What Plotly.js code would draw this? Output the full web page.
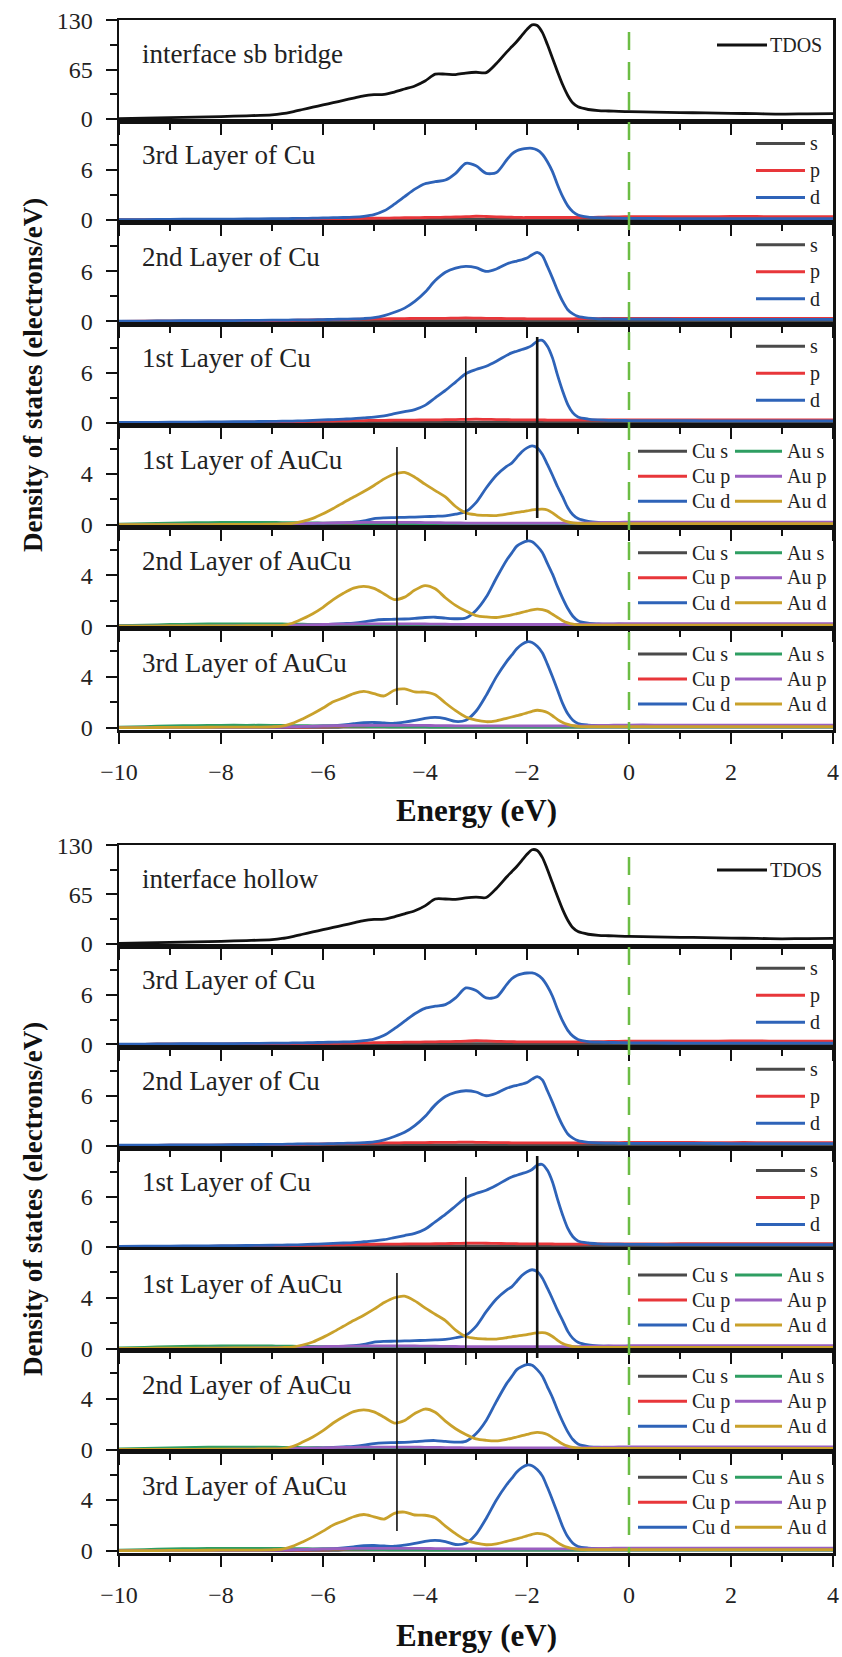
<!DOCTYPE html>
<html><head><meta charset="utf-8">
<script src="https://cdn.plot.ly/plotly-3.0.1.min.js"></script>
<style>html,body{margin:0;padding:0;background:#fff}#chart{width:842px;height:1657px}</style>
</head><body><div id="chart"></div>
<script>
// ---------------- DATA ----------------
const E = [-10,-9.5,-9,-8.5,-8,-7.5,-7,-6.8,-6.6,-6.4,-6.2,-6,-5.8,-5.6,-5.4,-5.2,-5,-4.8,-4.6,-4.4,-4.2,-4,-3.8,-3.6,-3.4,-3.2,-3,-2.8,-2.6,-2.4,-2.3,-2.2,-2.1,-2,-1.9,-1.8,-1.7,-1.6,-1.5,-1.4,-1.3,-1.2,-1.1,-1,-0.8,-0.6,-0.4,-0.2,0,0.5,1,1.5,2,2.5,3,3.5,4];

const tdos = [0.5,1,1.8,2.5,3.2,4.2,5.5, 7,9.5,12.5,15.5,18.5,21.5,24.5,27.5,30.5,32,32.5,35.5,39.5,43.5,50,59,59,58.5,60.5,61.5,61,73,88, 95,102,110,118,124,123,114,98,80,62,45,31,21,16, 12.5,11,10.5,10,9.6, 9,8.5,8,7.5,7,6.5,6.8,7];

const cu_s = [0.02,0.02,0.03,0.03,0.04,0.04,0.05, 0.05,0.06,0.06,0.07,0.07,0.08,0.08,0.08,0.09,0.09,0.1,0.1,0.1,0.1,0.1,0.1,0.1,0.1,0.1,0.1,0.1,0.1,0.1, 0.1,0.1,0.1,0.1,0.1,0.1,0.1,0.1,0.1,0.1,0.1,0.1,0.1,0.1, 0.1,0.1,0.1,0.1,0.1, 0.1,0.1,0.1,0.09,0.09,0.09,0.08,0.08];
const cu3_p = [0.01,0.02,0.03,0.04,0.05,0.06,0.08, 0.09,0.1,0.11,0.12,0.13,0.14,0.15,0.17,0.19,0.21,0.23,0.25,0.27,0.28,0.3,0.32,0.34,0.36,0.4,0.45,0.42,0.38,0.35, 0.33,0.32,0.3,0.3,0.3,0.3,0.3,0.3,0.3,0.3,0.3,0.3,0.3,0.3, 0.32,0.34,0.36,0.38,0.4, 0.4,0.4,0.4,0.42,0.42,0.4,0.4,0.4];
const cu3_d = [0.05,0.05,0.08,0.1,0.1,0.12,0.15, 0.15,0.18,0.2,0.22,0.25,0.28,0.3,0.35,0.45,0.65,1.1,1.9,2.8,3.7,4.35,4.6,4.8,5.6,6.8,6.5,5.6,5.7,7.2, 7.9,8.3,8.5,8.6,8.6,8.4,7.9,7.0,5.8,4.2,2.8,1.7,1.0,0.6, 0.35,0.28,0.25,0.22,0.2, 0.18,0.17,0.16,0.15,0.15,0.15,0.15,0.15];
const cu2_p = [0.02,0.03,0.04,0.05,0.06,0.08,0.1, 0.12,0.14,0.16,0.18,0.2,0.22,0.24,0.26,0.28,0.3,0.32,0.33,0.35,0.36,0.37,0.38,0.38,0.4,0.42,0.4,0.38,0.36,0.35, 0.34,0.33,0.33,0.32,0.32,0.32,0.32,0.32,0.32,0.32,0.32,0.32,0.32,0.33, 0.34,0.35,0.36,0.37,0.38, 0.38,0.38,0.37,0.37,0.37,0.36,0.36,0.36];
const cu2_d = [0.05,0.05,0.08,0.1,0.1,0.12,0.15, 0.15,0.18,0.2,0.2,0.22,0.25,0.28,0.3,0.35,0.45,0.7,1.1,1.6,2.4,3.5,4.9,5.9,6.4,6.6,6.45,6.0,6.3,6.9, 7.1,7.25,7.4,7.6,8.0,8.3,7.9,6.6,5.2,3.7,2.4,1.4,0.9,0.6, 0.4,0.32,0.3,0.28,0.27, 0.27,0.26,0.26,0.25,0.25,0.25,0.25,0.25];
const cu1_p = [0.02,0.03,0.04,0.05,0.06,0.08,0.1, 0.12,0.14,0.16,0.18,0.2,0.22,0.24,0.26,0.28,0.3,0.31,0.32,0.33,0.34,0.35,0.36,0.38,0.4,0.42,0.44,0.42,0.4,0.38, 0.37,0.36,0.35,0.35,0.35,0.35,0.35,0.34,0.33,0.32,0.32,0.32,0.32,0.32, 0.33,0.34,0.35,0.35,0.35, 0.35,0.36,0.36,0.37,0.37,0.36,0.36,0.36];
const cu1_d = [0.05,0.06,0.08,0.1,0.12,0.15,0.18, 0.2,0.22,0.25,0.3,0.35,0.4,0.45,0.5,0.6,0.7,0.85,1.1,1.35,1.6,2.1,3.0,3.9,4.9,5.9,6.4,6.8,7.4,8.1, 8.4,8.6,8.8,9.0,9.3,9.8,9.9,9.2,7.8,5.7,3.8,2.2,1.2,0.7, 0.45,0.35,0.3,0.3,0.28, 0.27,0.26,0.25,0.25,0.25,0.25,0.25,0.25];

const aucu_cus = [0.01,0.01,0.01,0.02,0.02,0.02,0.03, 0.03,0.03,0.03,0.04,0.04,0.04,0.05,0.05,0.05,0.05,0.05,0.05,0.05,0.05,0.05,0.05,0.05,0.05,0.05,0.05,0.05,0.05,0.05, 0.05,0.05,0.05,0.05,0.05,0.05,0.05,0.05,0.05,0.05,0.05,0.05,0.05,0.05, 0.05,0.05,0.05,0.05,0.05, 0.05,0.05,0.05,0.05,0.05,0.05,0.05,0.05];
const aucu_cup = [0.01,0.01,0.02,0.02,0.02,0.03,0.03, 0.04,0.05,0.06,0.07,0.08,0.09,0.1,0.11,0.12,0.13,0.14,0.15,0.15,0.14,0.13,0.12,0.11,0.1,0.1,0.1,0.1,0.1,0.1, 0.1,0.1,0.1,0.1,0.1,0.1,0.1,0.1,0.1,0.1,0.1,0.1,0.1,0.1, 0.1,0.1,0.1,0.1,0.1, 0.1,0.1,0.1,0.1,0.1,0.1,0.1,0.1];
const aucu_aus = [0.06,0.1,0.15,0.18,0.2,0.2,0.2, 0.19,0.18,0.17,0.16,0.15,0.14,0.13,0.12,0.11,0.1,0.09,0.08,0.08,0.07,0.07,0.06,0.06,0.06,0.06,0.06,0.06,0.06,0.06, 0.06,0.06,0.06,0.06,0.06,0.06,0.06,0.06,0.06,0.06,0.06,0.06,0.06,0.06, 0.07,0.07,0.07,0.07,0.07, 0.08,0.08,0.08,0.08,0.08,0.08,0.08,0.08];
const aucu_aup = [0.01,0.01,0.02,0.02,0.03,0.04,0.05, 0.07,0.09,0.11,0.13,0.15,0.17,0.18,0.19,0.2,0.2,0.2,0.2,0.2,0.2,0.19,0.18,0.17,0.16,0.15,0.15,0.15,0.15,0.15, 0.15,0.15,0.15,0.15,0.15,0.15,0.15,0.15,0.15,0.15,0.15,0.15,0.15,0.15, 0.17,0.19,0.2,0.21,0.22, 0.22,0.22,0.22,0.22,0.22,0.22,0.22,0.22];

const au1_cud = [0.01,0.01,0.02,0.02,0.03,0.04,0.05, 0.06,0.07,0.08,0.1,0.12,0.14,0.17,0.22,0.32,0.5,0.56,0.58,0.6,0.62,0.65,0.68,0.72,0.85,1.05,1.75,2.9,3.9,4.6, 4.85,5.3,5.75,6.05,6.2,6.05,5.55,4.75,3.9,3.0,2.2,1.35,0.8,0.5, 0.28,0.2,0.18,0.17,0.16, 0.15,0.15,0.15,0.14,0.14,0.14,0.14,0.14];
const au1_aud = [0.02,0.02,0.03,0.03,0.04,0.05,0.06, 0.08,0.12,0.28,0.52,0.88,1.3,1.75,2.2,2.62,3.1,3.62,4.0,4.12,3.75,3.2,2.7,2.2,1.45,0.95,0.8,0.75,0.74,0.85, 0.92,0.98,1.04,1.1,1.18,1.23,1.25,1.18,0.95,0.65,0.4,0.25,0.16,0.12, 0.1,0.1,0.1,0.1,0.1, 0.1,0.1,0.1,0.1,0.1,0.1,0.1,0.1];
const au2_cud = [0.01,0.01,0.02,0.02,0.03,0.04,0.05, 0.06,0.08,0.1,0.12,0.15,0.18,0.22,0.26,0.35,0.48,0.54,0.56,0.58,0.63,0.7,0.72,0.65,0.6,0.66,1.25,2.3,3.8,5.2, 5.75,6.3,6.55,6.7,6.65,6.3,5.8,4.95,4.1,3.1,2.2,1.4,0.8,0.45, 0.25,0.2,0.18,0.17,0.16, 0.15,0.15,0.15,0.15,0.15,0.15,0.15,0.15];
const au2_aud = [0.02,0.02,0.03,0.03,0.04,0.05,0.06, 0.08,0.25,0.6,1.0,1.5,2.1,2.6,3.0,3.14,2.98,2.55,2.1,2.3,2.85,3.2,2.95,2.25,1.65,1.2,0.85,0.74,0.7,0.82, 0.9,1.0,1.1,1.2,1.3,1.36,1.32,1.2,0.95,0.7,0.45,0.28,0.18,0.12, 0.1,0.1,0.1,0.1,0.1, 0.1,0.1,0.1,0.1,0.1,0.1,0.1,0.1];
const au3_cud = [0.01,0.01,0.02,0.02,0.03,0.04,0.05, 0.06,0.08,0.1,0.12,0.15,0.18,0.24,0.32,0.4,0.42,0.38,0.36,0.45,0.58,0.75,0.82,0.72,0.5,0.6,1.3,2.55,4.0,5.2, 5.7,6.2,6.55,6.75,6.7,6.4,5.9,5.0,4.0,2.95,1.9,1.1,0.6,0.34, 0.22,0.18,0.16,0.15,0.15, 0.15,0.15,0.15,0.15,0.15,0.15,0.15,0.15];
const au3_aud = [0.02,0.02,0.03,0.04,0.05,0.06,0.08, 0.13,0.35,0.7,1.1,1.55,2.04,2.35,2.68,2.86,2.68,2.5,2.95,3.05,2.82,2.8,2.6,1.95,1.35,0.85,0.6,0.48,0.55,0.75, 0.85,0.95,1.05,1.18,1.3,1.38,1.33,1.2,0.95,0.65,0.42,0.27,0.17,0.12, 0.1,0.1,0.1,0.1,0.1, 0.1,0.1,0.1,0.1,0.1,0.1,0.1,0.1];

const panelLabels = ['interface sb bridge', 'interface hollow'];
const layerLabels = ['', '3rd Layer of Cu', '2nd Layer of Cu', '1st Layer of Cu', '1st Layer of AuCu', '2nd Layer of AuCu', '3rd Layer of AuCu'];
const markE = [-3.2, -1.8, -4.55];   // vertical guide lines (eV)
const fermiE = 0;
const xTickVals = [-10,-8,-6,-4,-2,0,2,4];

// ---------------- STYLE / LAYOUT ----------------
const C = {tdos:'#111111', s:'#4a4a4a', p:'#e8363a', d:'#2e63b8', aus:'#2e9e62', aup:'#9a5fc0', aud:'#c9a12b'};
const layerSeries = [
  [{n:'TDOS', y:tdos, c:C.tdos}],
  [{n:'s', y:cu_s, c:C.s},{n:'p', y:cu3_p, c:C.p},{n:'d', y:cu3_d, c:C.d}],
  [{n:'s', y:cu_s, c:C.s},{n:'p', y:cu2_p, c:C.p},{n:'d', y:cu2_d, c:C.d}],
  [{n:'s', y:cu_s, c:C.s},{n:'p', y:cu1_p, c:C.p},{n:'d', y:cu1_d, c:C.d}],
  [{n:'Cu s', y:aucu_cus, c:C.s},{n:'Cu p', y:aucu_cup, c:C.p},{n:'Cu d', y:au1_cud, c:C.d},{n:'Au s', y:aucu_aus, c:C.aus},{n:'Au p', y:aucu_aup, c:C.aup},{n:'Au d', y:au1_aud, c:C.aud}],
  [{n:'Cu s', y:aucu_cus, c:C.s},{n:'Cu p', y:aucu_cup, c:C.p},{n:'Cu d', y:au2_cud, c:C.d},{n:'Au s', y:aucu_aus, c:C.aus},{n:'Au p', y:aucu_aup, c:C.aup},{n:'Au d', y:au2_aud, c:C.aud}],
  [{n:'Cu s', y:aucu_cus, c:C.s},{n:'Cu p', y:aucu_cup, c:C.p},{n:'Cu d', y:au3_cud, c:C.d},{n:'Au s', y:aucu_aus, c:C.aus},{n:'Au p', y:aucu_aup, c:C.aup},{n:'Au d', y:au3_aud, c:C.aud}]
];
layerSeries.forEach(l => l.forEach(s => { if (s.y.length !== E.length) throw new Error('length mismatch ' + s.n + ' ' + s.y.length); }));

const kinds = ['tdos','cu','cu','cu','aucu','aucu','aucu'];
const yconf = {tdos:{range:[-3.2,130.3], dtick:65}, cu:{range:[-0.34,11.83], dtick:6}, aucu:{range:[-0.17,7.79], dtick:4}};

const L=119, R=833, T=20, B=1553;
const px2x = px => (px - L) / (R - L);
const px2y = py => (B - py) / (B - T);
const serif = 'Liberation Serif';

const panels = [
  {top:20, h:710, marks:[[357,520,1.6],[337,518,2.6],[447,705,1.6]], energyY:810},
  {top:845, h:708, marks:[[1177,1365,1.6],[1156,1358,2.6],[1273,1531,1.6]], energyY:1635}
];

const traces = [];
const layout = {
  width:842, height:1657, margin:{l:L, r:842-R, t:T, b:1657-B},
  paper_bgcolor:'#fff', plot_bgcolor:'#fff', showlegend:false,
  font:{family:serif, color:'#111'}, hovermode:false,
  shapes:[], annotations:[]
};

const legendRows = {tdos:[25], cu:[22,49,76], aucu:[25.5,50.5,75.5]};

panels.forEach((P, pi) => {
  const sh = P.h / 7;
  for (let k = 0; k < 7; k++) {
    const n = pi*7 + k + 1;
    const sfx = n === 1 ? '' : String(n);
    const top = P.top + k*sh, bot = top + sh;
    const kind = kinds[k], yc = yconf[kind];
    layout['xaxis'+sfx] = {
      domain:[0,1], anchor:'y'+sfx, range:[-10,4], tickmode:'array', tickvals:xTickVals,
      showline:true, mirror:true, linewidth:2.5, linecolor:'#111',
      ticks:'outside', ticklen:11, tickwidth:2, tickcolor:'#111',
      minor:{tickmode:'linear', tick0:-9, dtick:2, ticks:'outside', ticklen:6, tickwidth:2, tickcolor:'#111', showgrid:false},
      showgrid:false, zeroline:false, showticklabels: k === 6, ticklabelstandoff:8,
      tickfont:{family:serif, size:24, color:'#222'}, fixedrange:true
    };
    layout['yaxis'+sfx] = {
      domain:[px2y(bot), px2y(top)], anchor:'x'+sfx, range:yc.range,
      tickmode:'linear', tick0:0, dtick:yc.dtick,
      showline:true, mirror:true, linewidth:2.5, linecolor:'#111',
      ticks:'outside', ticklen:11, tickwidth:2, tickcolor:'#111',
      minor:{tickmode:'linear', tick0:0, dtick:yc.dtick/2, ticks:'outside', ticklen:7, tickwidth:2, tickcolor:'#111', showgrid:false},
      showgrid:false, zeroline:false, ticklabelstandoff:8,
      tickfont:{family:serif, size:24, color:'#222'}, fixedrange:true
    };
    layerSeries[k].forEach((s, si) => {
      traces.push({type:'scatter', mode:'lines', name:s.n, x:E, y:s.y, xaxis:'x'+sfx, yaxis:'y'+sfx,
        line:{color:s.c, width:2.8, shape:'spline', smoothing:0.8}, showlegend:false});
      let x0, x1, tx, row;
      if (kind === 'tdos') { x0=717; x1=767; tx=768; row=0; }
      else if (kind === 'cu') { x0=756; x1=805; tx=808; row=si; }
      else { const col = si < 3 ? 0 : 1; row = si % 3; if (col === 0) { x0=638; x1=687; tx=690; } else { x0=735; x1=782; tx=785; } }
      const ry = top + legendRows[kind][row];
      layout.shapes.push({type:'line', xref:'paper', yref:'paper', x0:px2x(x0), x1:px2x(x1), y0:px2y(ry), y1:px2y(ry), line:{color:s.c, width:3}});
      layout.annotations.push({xref:'paper', yref:'paper', x:px2x(tx), y:px2y(ry), xanchor:'left', yanchor:'middle', showarrow:false,
        text:s.n, font:{family:serif, size:20, color:'#222'}});
    });
    layout.annotations.push({xref:'paper', yref:'paper', x:px2x(140), y:px2y(top + 34), xanchor:'left', yanchor:'middle', showarrow:false,
      text: k === 0 ? panelLabels[pi] : layerLabels[k], font:{family:serif, size:27, color:'#222'}});
  }
  layout.shapes.push({type:'line', xref:'x', yref:'paper', x0:fermiE, x1:fermiE, y0:px2y(P.top+12), y1:px2y(P.top+P.h),
    line:{color:'#6cbd45', width:2.5, dash:'18px,12px'}, layer:'above'});
  P.marks.forEach((m, i) => {
    layout.shapes.push({type:'line', xref:'x', yref:'paper', x0:markE[i], x1:markE[i], y0:px2y(m[0]), y1:px2y(m[1]),
      line:{color:'#111', width:m[2]}, layer:'above'});
  });
  layout.annotations.push({xref:'paper', yref:'paper', x:px2x(33), y:px2y(P.top + P.h/2), xanchor:'center', yanchor:'middle',
    textangle:-90, showarrow:false, text:'<b>Density of states (electrons/eV)</b>', font:{family:serif, size:27, color:'#111'}});
  layout.annotations.push({xref:'paper', yref:'paper', x:0.5, y:px2y(P.energyY), xanchor:'center', yanchor:'middle',
    showarrow:false, text:'<b>Energy (eV)</b>', font:{family:serif, size:31, color:'#111'}});
});

Plotly.newPlot('chart', traces, layout, {staticPlot:true, displayModeBar:false});
</script>
</body></html>
